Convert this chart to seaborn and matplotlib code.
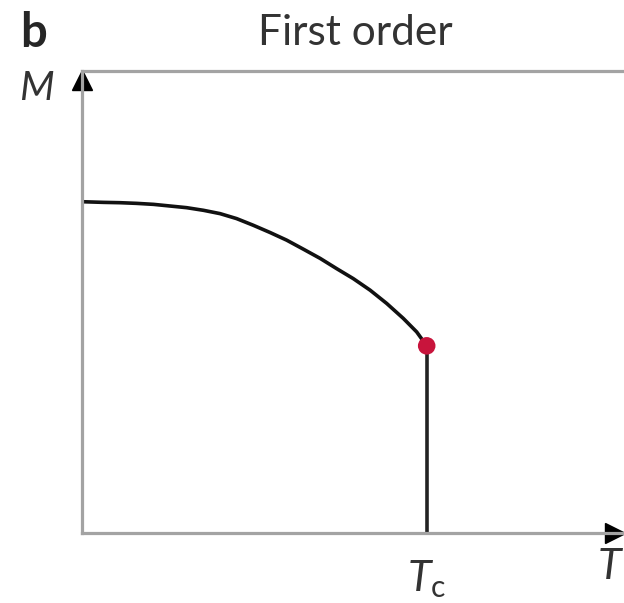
import numpy as np
import pandas as pd
import matplotlib
matplotlib.use("Agg")
import matplotlib.pyplot as plt
import seaborn as sns

# curve M(T), T in units of Tc, M in units of M(0)
T_curve = [0.0, 0.063, 0.111, 0.159, 0.208, 0.256, 0.304, 0.353, 0.401, 0.449,
           0.497, 0.546, 0.594, 0.642, 0.691, 0.739, 0.787, 0.836, 0.884, 0.932,
           0.971, 1.0]
M_curve = [1.0, 0.998, 0.997, 0.995, 0.992, 0.987, 0.982, 0.974, 0.964, 0.949,
           0.929, 0.907, 0.884, 0.857, 0.829, 0.798, 0.768, 0.733, 0.693, 0.648,
           0.607, 0.565]

# the jump at Tc
T_c = 1.0
M_jump = [0.565, 0.0]

x_max = 1.572
y_max = 1.394

sns.set_style("white")
plt.rcParams["font.family"] = ["Lato", "DejaVu Sans"]
plt.rcParams["mathtext.fontset"] = "custom"
plt.rcParams["mathtext.it"] = "Lato:italic"
plt.rcParams["mathtext.rm"] = "Lato"

fig = plt.figure(figsize=(6.24, 6.03), dpi=100)
ax = fig.add_axes([0.131, 0.116, 0.869, 0.766])

df = pd.DataFrame({"T": T_curve, "M": M_curve})
sns.lineplot(data=df, x="T", y="M", ax=ax, color="#111111", lw=2.6,
             sort=False, estimator=None, solid_capstyle="butt",
             solid_joinstyle="round")

jump = pd.DataFrame({"T": [T_c, T_c], "M": M_jump})
sns.lineplot(data=jump, x="T", y="M", ax=ax, color="#222222", lw=2.6,
             sort=False, estimator=None, solid_capstyle="butt")

sns.scatterplot(x=[T_c], y=[M_jump[0]], ax=ax, color="#c8143c", s=160,
                edgecolor="none", zorder=5)

ax.set_xlim(0, x_max)
ax.set_ylim(0, y_max)
ax.set_xticks([])
ax.set_yticks([])
ax.set_xlabel("")
ax.set_ylabel("")

for side in ["left", "bottom", "top"]:
    ax.spines[side].set_color("#a3a3a3")
    ax.spines[side].set_linewidth(2.3)
ax.spines["right"].set_visible(False)

# axis arrowheads
ax.plot(0.984, 0, ">", color="black", ms=14, transform=ax.transAxes, clip_on=False)
ax.plot(0, 0.98, "^", color="black", ms=14, transform=ax.transAxes, clip_on=False)

fig.text(0.053, 0.945, "b", fontsize=34, fontweight="bold", ha="center", va="center")
fig.text(0.569, 0.945, "First order", fontsize=30.5, color="#333333",
         ha="center", va="center")
fig.text(0.058, 0.853, "M", fontsize=29, style="italic", color="#333333",
         ha="center", va="center")
ax.text(T_c, -0.055, r"$T_{\mathrm{c}}$", fontsize=31, color="#333333",
        ha="center", va="top", transform=ax.get_xaxis_transform())
fig.text(0.976, 0.06, "T", fontsize=31, style="italic", color="#333333",
         ha="center", va="center")

fig.savefig("out.png", dpi=100)
